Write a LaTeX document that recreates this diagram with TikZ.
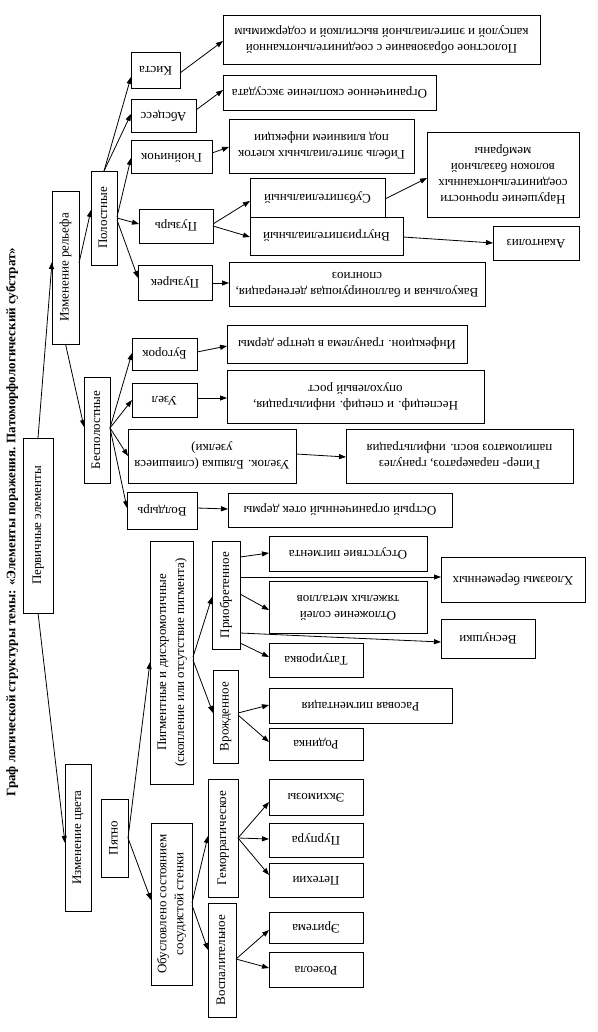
\documentclass[tikz,border=0pt]{standalone}
\usepackage{fontspec}
\setmainfont{Liberation Serif}
\usetikzlibrary{arrows.meta}
\newcommand{\txtup}[1]{\rotatebox{90}{\begin{tabular}{@{}c@{}}#1\end{tabular}}}
\newcommand{\txtflip}[1]{\rotatebox{180}{\begin{tabular}{@{}c@{}}#1\end{tabular}}}
\begin{document}
\begin{tikzpicture}[x=1pt,y=-1pt,
  box/.style={draw, line width=0.9pt, inner sep=0pt, outer sep=0pt, font=\fontsize{13}{16}\selectfont},
  arr/.style={-{Triangle[length=7pt,width=5pt]}, line width=0.8pt}]
\useasboundingbox[fill=white] (0,0) rectangle (597,1032);
% title
\node[rotate=90, font=\bfseries\fontsize{13}{15}\selectfont, inner sep=0pt] (title) at (12,522)
  {Граф логической структуры темы: «Элементы поражения. Патоморфологический субстрат»};
% internal nodes
\node[box, minimum width=30, minimum height=175] (perv) at (38,525.5) {\txtup{Первичные элементы}};
\node[box, minimum width=27, minimum height=153] (relief) at (65.5,267.5) {\txtup{Изменение рельефа}};
\node[box, minimum width=26, minimum height=94] (polost) at (104,218) {\txtup{Полостные}};
\node[box, minimum width=26, minimum height=106] (bespol) at (97,430) {\txtup{Бесполостные}};
\node[box, minimum width=26, minimum height=147] (color) at (78,837.5) {\txtup{Изменение цвета}};
\node[box, minimum width=27, minimum height=78] (spot) at (114.5,838) {\txtup{Пятно}};
\node[box, minimum width=43, minimum height=243, font=\fontsize{13}{18}\selectfont] (pigm) at (171.5,662.5) {\txtup{Пигментные и дисхромотичные\\(скопление или отсутствие пигмента)}};
\node[box, minimum width=41, minimum height=162, font=\fontsize{13}{17}\selectfont] (vasc) at (171.5,904) {\txtup{Обусловлено состоянием\\сосудистой стенки}};
\node[box, minimum width=28, minimum height=108] (acq) at (226,595) {\txtup{Приобретенное}};
\node[box, minimum width=25, minimum height=93] (cong) at (225.5,716.5) {\txtup{Врожденное}};
\node[box, minimum width=30, minimum height=118] (hem) at (223,838) {\txtup{Геморрагическое}};
\node[box, minimum width=28, minimum height=114] (infl) at (222,960) {\txtup{Воспалительное}};
% leaves: cavity
\node[box, minimum width=49, minimum height=36] (kista) at (155.5,70) {\txtflip{Киста}};
\node[box, minimum width=65, minimum height=33] (absc) at (163.5,115.5) {\txtflip{Абсцесс}};
\node[box, minimum width=81, minimum height=33] (gnoi) at (171.5,156.5) {\txtflip{Гнойничок}};
\node[box, minimum width=74, minimum height=34] (puz) at (176,226) {\txtflip{Пузырь}};
\node[box, minimum width=74, minimum height=35] (puzk) at (175,282.5) {\txtflip{Пузырек}};
\node[box, minimum width=317, minimum height=49] (kistaD) at (381.5,39.5) {\txtflip{Полостное образование с соединительнотканной\\капсулой и эпителиальной выстилкой и содержимым}};
\node[box, minimum width=213, minimum height=35] (abscD) at (329.5,92.5) {\txtflip{Ограниченное скопление экссудата}};
\node[box, minimum width=185, minimum height=54] (gnoiD) at (321.5,146) {\txtflip{Гибель эпителиальных клеток\\под влиянием инфекции}};
\node[box, minimum width=135, minimum height=39] (subep) at (317.5,197.5) {\txtflip{Субэпителиальный}};
\node[box, minimum width=153, minimum height=38] (intra) at (326.5,236) {\txtflip{Внутриэпителиальный}};
\node[box, minimum width=152, minimum height=85] (narush) at (503,174.5) {\txtflip{Нарушение прочности\\соединительнотканных\\волокон базальной\\мембраны}};
\node[box, minimum width=86, minimum height=34] (akant) at (536,243) {\txtflip{Акантолиз}};
\node[box, minimum width=256, minimum height=44] (vakD) at (357,284) {\txtflip{Вакуольная и баллонирующая дегенерация,\\спонгиоз}};
% leaves: non-cavity
\node[box, minimum width=65, minimum height=32] (bug) at (164.5,354) {\txtflip{Бугорок}};
\node[box, minimum width=65, minimum height=34] (uzel) at (164.5,400) {\txtflip{Узел}};
\node[box, minimum width=168, minimum height=54] (uzelok) at (212,456) {\txtflip{Узелок. Бляшка (слившиеся\\узелки)}};
\node[box, minimum width=70, minimum height=37] (voldyr) at (162,510.5) {\txtflip{Волдырь}};
\node[box, minimum width=240, minimum height=38] (bugD) at (347,344) {\txtflip{Инфекцион. гранулема в центре дермы}};
\node[box, minimum width=257, minimum height=53] (uzelD) at (355.5,396.5) {\txtflip{Неспециф. и специф. инфильтрация,\\опухолевый рост}};
\node[box, minimum width=227, minimum height=54] (uzelokD) at (459.5,456) {\txtflip{Гипер- паракератоз, гранулез\\папиломатоз восп. инфильтрация}};
\node[box, minimum width=224, minimum height=34] (voldyrD) at (340,510) {\txtflip{Острый ограниченный отек дермы}};
% leaves: colour
\node[box, minimum width=158, minimum height=35] (otsut) at (348,553.5) {\txtflip{Отсутствие пигмента}};
\node[box, minimum width=158, minimum height=52] (otlozh) at (348,607) {\txtflip{Отложение солей\\тяжелых металлов}};
\node[box, minimum width=94, minimum height=34] (tatu) at (316,660) {\txtflip{Татуировка}};
\node[box, minimum width=183, minimum height=35] (rasa) at (360.5,705.5) {\txtflip{Расовая пигментация}};
\node[box, minimum width=94, minimum height=32] (rodin) at (316,744) {\txtflip{Родинка}};
\node[box, minimum width=144, minimum height=45] (chloa) at (513,579.5) {\txtflip{Хлоазмы беременных}};
\node[box, minimum width=94, minimum height=39] (vesn) at (488,638.5) {\txtflip{Веснушки}};
\node[box, minimum width=94, minimum height=36] (ekh) at (316,797) {\txtflip{Экхимозы}};
\node[box, minimum width=94, minimum height=34] (purp) at (316,840) {\txtflip{Пурпура}};
\node[box, minimum width=94, minimum height=34] (petekh) at (316,880) {\txtflip{Петехии}};
\node[box, minimum width=94, minimum height=31] (erit) at (316,927.5) {\txtflip{Эритема}};
\node[box, minimum width=94, minimum height=35] (roz) at (316,969.5) {\txtflip{Розеола}};
% connectors
\draw[arr] (perv.north) -- (relief.west |- 0,262);
\draw[arr] (perv.south) -- (color.west |- 0,843);
\draw[arr] (relief.east |- 0,263) -- (polost.west |- 0,210);
\draw[arr] (relief.south) -- (bespol.west |- 0,427);
\draw[arr] (polost.north) -- (kista.west |- 0,77);
\draw[arr] (polost.north) -- (absc.west |- 0,114);
\draw[arr] (polost.east |- 0,217) -- (gnoi.west |- 0,158);
\draw[arr] (polost.east |- 0,218) -- (puz.west |- 0,224);
\draw[arr] (polost.east |- 0,220) -- (puzk.west |- 0,278);
\draw[arr] (kista.east |- 0,73) -- (kistaD.west |- 0,41);
\draw[arr] (absc.east |- 0,110) -- (abscD.west |- 0,90);
\draw[arr] (gnoi.east |- 0,153) -- (gnoiD.west |- 0,147);
\draw[arr] (puz.east |- 0,224) -- (subep.west |- 0,201);
\draw[arr] (puz.east |- 0,226) -- (intra.west |- 0,237);
\draw[arr] (puzk.east |- 0,283) -- (vakD.west |- 0,283);
\draw[arr] (subep.east |- 0,199) -- (narush.west |- 0,178);
\draw[arr] (intra.east |- 0,237) -- (akant.west |- 0,243);
\draw[arr] (bespol.east |- 0,428) -- (bug.west |- 0,353);
\draw[arr] (bespol.east |- 0,428) -- (uzel.west |- 0,400);
\draw[arr] (bespol.east |- 0,428) -- (uzelok.west |- 0,456);
\draw[arr] (bespol.east |- 0,428) -- (voldyr.west |- 0,508);
\draw[arr] (bug.east |- 0,352) -- (bugD.west |- 0,346);
\draw[arr] (uzel.east |- 0,398) -- (uzelD.west |- 0,398);
\draw[arr] (uzelok.east |- 0,454) -- (uzelokD.west |- 0,457);
\draw[arr] (voldyr.east |- 0,508) -- (voldyrD.west |- 0,509);
\draw[arr] (spot.east |- 0,838) -- (pigm.west |- 0,662);
\draw[arr] (spot.east |- 0,838) -- (vasc.west |- 0,900);
\draw[arr] (pigm.east |- 0,657) -- (acq.west |- 0,597);
\draw[arr] (pigm.east |- 0,660) -- (cong.west |- 0,713);
\draw[arr] (acq.east |- 0,557) -- (otsut.west |- 0,553);
\draw[arr] (acq.east |- 0,577) -- (chloa.west |- 0,577);
\draw[arr] (acq.east |- 0,594) -- (otlozh.west |- 0,610);
\draw[arr] (acq.east |- 0,633) -- (vesn.west |- 0,642);
\draw[arr] (acq.east |- 0,643) -- (tatu.west |- 0,657);
\draw[arr] (cong.east |- 0,713) -- (rasa.west |- 0,705);
\draw[arr] (cong.east |- 0,715) -- (rodin.west |- 0,742);
\draw[arr] (vasc.east |- 0,903) -- (hem.west |- 0,836);
\draw[arr] (vasc.east |- 0,905) -- (infl.west |- 0,950);
\draw[arr] (hem.east |- 0,838) -- (ekh.west |- 0,802);
\draw[arr] (hem.east |- 0,838) -- (purp.west |- 0,839);
\draw[arr] (hem.east |- 0,838) -- (petekh.west |- 0,875);
\draw[arr] (infl.east |- 0,959) -- (erit.west |- 0,930);
\draw[arr] (infl.east |- 0,959) -- (roz.west |- 0,968);
\end{tikzpicture}
\end{document}
